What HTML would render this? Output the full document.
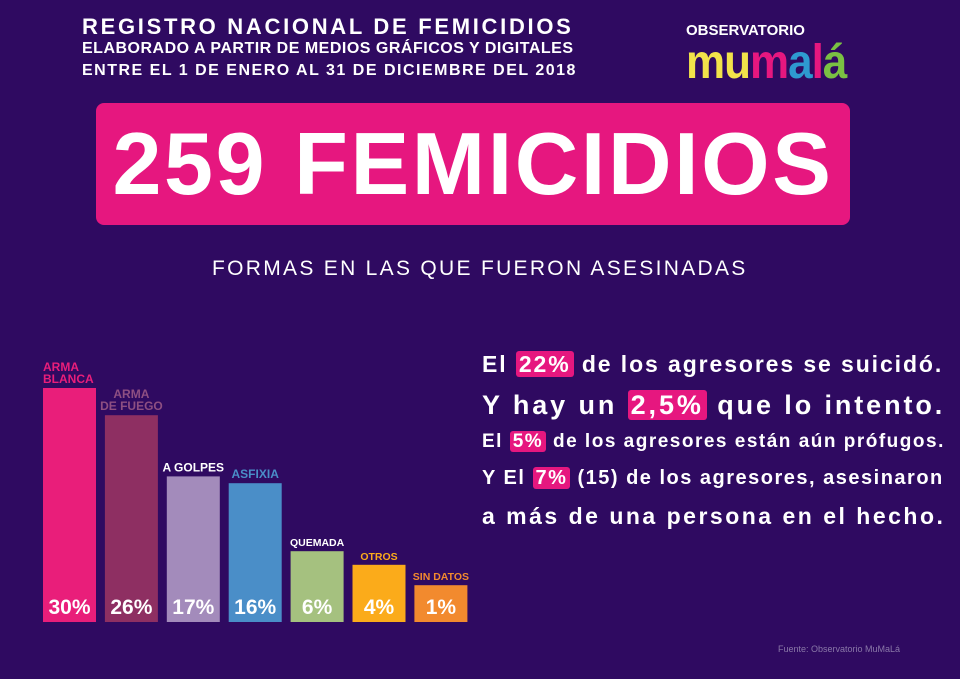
<!DOCTYPE html>
<html><head><meta charset="utf-8"><style>
body{margin:0;width:960px;height:679px;background:#2f0a61;overflow:hidden;font-family:"Liberation Sans",sans-serif;position:relative}
.a{position:absolute;white-space:nowrap}
.hl{background:#e6177f;padding:0 3px;border-radius:3px}
</style></head><body>
<div class="a" style="left:82px;top:14px;color:#fff;font-weight:bold;font-size:22px;letter-spacing:2.7px">REGISTRO NACIONAL DE FEMICIDIOS</div>
<div class="a" style="left:82px;top:40px;color:#fff;font-weight:bold;font-size:16px;letter-spacing:0.5px">ELABORADO A PARTIR DE MEDIOS GRÁFICOS Y DIGITALES</div>
<div class="a" style="left:82px;top:62px;color:#fff;font-weight:bold;font-size:16px;letter-spacing:1.5px">ENTRE EL 1 DE ENERO AL 31 DE DICIEMBRE DEL 2018</div>
<div class="a" style="left:686px;top:22px;color:#fff;font-weight:bold;font-size:15px">OBSERVATORIO</div>
<div class="a" style="left:686px;top:36px;font-weight:bold;font-size:44px;letter-spacing:-1px;line-height:48px;transform:scaleY(1.1);transform-origin:top left"><span style="color:#f2e34a">mu</span><span style="color:#e6177f">m</span><span style="color:#2e9ad0">a</span><span style="color:#e6177f">l</span><span style="color:#7ac143">á</span></div>
<div class="a" style="left:96px;top:103px;width:754px;height:122px;background:#e6177f;border-radius:8px;color:#fff;font-weight:bold;font-size:88px;letter-spacing:2.6px;line-height:122px;text-align:center">259 FEMICIDIOS</div>
<div class="a" style="left:212px;top:257px;color:#fff;font-size:21px;letter-spacing:2.3px">FORMAS EN LAS QUE FUERON ASESINADAS</div>
<svg class="a" style="left:0;top:0" width="960" height="679" id="chart"></svg>
<div class="a" style="left:482px;top:351px;color:#fff;font-weight:bold;font-size:23px;letter-spacing:1.9px">El <span class="hl">22%</span> de los agresores se suicidó.</div>
<div class="a" style="left:482px;top:390px;color:#fff;font-weight:bold;font-size:27px;letter-spacing:2.9px">Y hay un <span class="hl">2,5%</span> que lo intento.</div>
<div class="a" style="left:482px;top:431px;color:#fff;font-weight:bold;font-size:19px;letter-spacing:1.5px">El <span class="hl">5%</span> de los agresores están aún prófugos.</div>
<div class="a" style="left:482px;top:467px;color:#fff;font-weight:bold;font-size:20px;letter-spacing:1.5px">Y El <span class="hl">7%</span> (15) de los agresores, asesinaron</div>
<div class="a" style="left:482px;top:503px;color:#fff;font-weight:bold;font-size:23px;letter-spacing:2.5px">a más de una persona en el hecho.</div>
<div class="a" style="left:778px;top:644px;color:#8a78a8;font-size:9px">Fuente: Observatorio MuMaLá</div>
<script>
const categories=["ARMA|BLANCA","ARMA|DE FUEGO","A GOLPES","ASFIXIA","QUEMADA","OTROS","SIN DATOS"];
const values=[30,26,17,16,6,4,1];
const colors=["#e91e7a","#8e2f62","#a38bbb","#4a8ec8","#a5c17f","#fbab1a","#f28a2e"];
const labelColors=["#e91e7a","#8e4f82","#ffffff","#4a8ec8","#ffffff","#fbab1a","#f28a2e"];
const svg=document.getElementById('chart');const NS='http://www.w3.org/2000/svg';
const base=622,x0=43,step=61.9,bw=53;
function y(v){return base-(30+6.8*v);}
function t(x,yy,s,size,fill,anchor){const e=document.createElementNS(NS,'text');e.setAttribute('x',x);e.setAttribute('y',yy);e.setAttribute('font-size',size);e.setAttribute('font-weight','bold');e.setAttribute('fill',fill);e.setAttribute('text-anchor',anchor);e.setAttribute('font-family','Liberation Sans, sans-serif');e.textContent=s;svg.appendChild(e);return e;}
values.forEach((v,i)=>{
 const x=x0+i*step;const top=y(v);
 const r=document.createElementNS(NS,'rect');
 
 
 r.setAttribute('x',x);r.setAttribute('y',top);r.setAttribute('width',bw);r.setAttribute('height',base-top);r.setAttribute('fill',colors[i]);svg.appendChild(r);
 const pv=t(x+bw/2,base-8,v+'%',21,'#fff','middle');
 
 
 const lines=categories[i].split('|');const fs=i>=4?10.5:12;
 lines.forEach((ln,j)=>{const lt=t(i===0?x:x+bw/2,top-5-(lines.length-1-j)*12,ln,fs,labelColors[i],i===0?'start':'middle');
  
  });
});
</script>
</body></html>
